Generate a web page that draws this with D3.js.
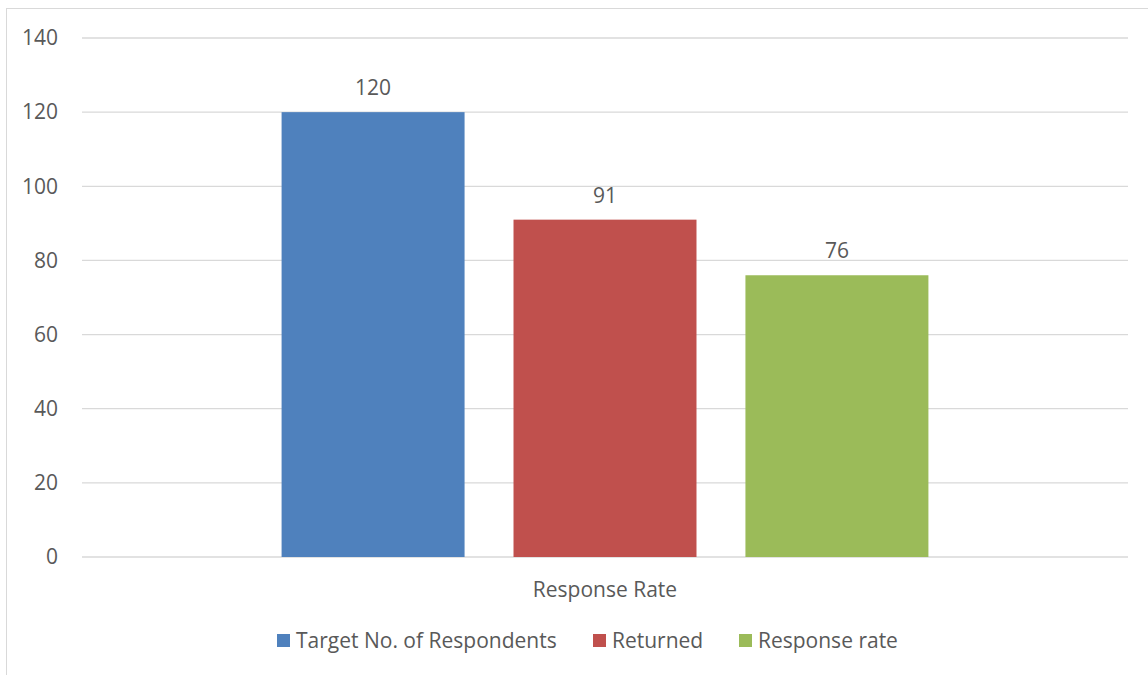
<!DOCTYPE html>
<html>
<head>
<meta charset="utf-8">
<script src="https://cdn.jsdelivr.net/npm/d3@7"></script>
<style>
  body { margin: 0; background: #fff; }
  text { font-family: "Open Sans", sans-serif; fill: #595959; }
</style>
</head>
<body>
<script>
let categories = ["Response Rate"];
let seriesNames = ["Target No. of Respondents", "Returned", "Response rate"];
let seriesValues = [120, 91, 76];
let seriesColors = ["#4F81BD", "#C0504D", "#9BBB59"];
let yTicks = [0, 20, 40, 60, 80, 100, 120, 140];

let W = 1148, H = 675;
let fontSize = "21px";
let margin = {top: 38, right: 20, bottom: 118, left: 82},
    width = 1128 - margin.left,
    height = 557 - margin.top;

let svg = d3.select("body").append("svg")
    .attr("width", W)
    .attr("height", H);

// chart border
svg.append("rect")
    .attr("x", 6.5).attr("y", 8.5)
    .attr("width", W + 20).attr("height", H + 20)
    .attr("fill", "none")
    .attr("stroke", "#d9d9d9")
    .attr("stroke-width", 1);

let g = svg.append("g")
    .attr("transform", "translate(" + margin.left + "," + margin.top + ")");

let x0 = d3.scaleBand()
    .domain(categories)
    .range([0, width])
    .padding(0.2358);

let x1 = d3.scaleBand()
    .domain(seriesNames)
    .range([0, x0.bandwidth()])
    .paddingInner(0.211)
    .paddingOuter(0);

let y = d3.scaleLinear()
    .domain([0, 140])
    .range([height, 0]);

// gridlines
g.append("g")
    .selectAll("line")
    .data(yTicks)
    .join("line")
    .attr("x1", 0).attr("x2", width)
    .attr("y1", d => y(d)).attr("y2", d => y(d))
    .attr("stroke", "#d9d9d9")
    .attr("stroke-width", 1.3);

// y axis labels
let yAxis = d3.axisLeft(y).tickValues(yTicks).tickSize(0).tickPadding(24);
g.append("g")
    .call(yAxis)
    .call(a => a.select(".domain").remove())
    .selectAll("text")
    .style("font-size", fontSize)
    .style("font-family", "Open Sans, sans-serif")
    .attr("fill", "#595959");

let data = seriesNames.map((s, i) => ({cat: categories[0], name: s, value: seriesValues[i], color: seriesColors[i]}));

let bars = g.append("g")
    .attr("transform", "translate(" + x0(categories[0]) + ",0)");

bars.selectAll("rect")
    .data(data)
    .join("rect")
    .attr("x", d => x1(d.name))
    .attr("y", d => y(d.value))
    .attr("width", x1.bandwidth())
    .attr("height", d => height - y(d.value))
    .attr("fill", d => d.color);

bars.selectAll("text.label")
    .data(data)
    .join("text")
    .attr("class", "label")
    .attr("x", d => x1(d.name) + x1.bandwidth() / 2)
    .attr("y", d => y(d.value) - 17)
    .attr("text-anchor", "middle")
    .style("font-size", fontSize)
    .text(d => d.value);

// category axis
let xAxis = d3.axisBottom(x0).tickSize(0).tickPadding(25);
g.append("g")
    .attr("transform", "translate(0," + height + ")")
    .call(xAxis)
    .call(a => a.select(".domain").remove())
    .selectAll("text")
    .style("font-size", fontSize)
    .style("font-family", "Open Sans, sans-serif")
    .attr("fill", "#595959");

// legend
let legend = svg.append("g").attr("transform", "translate(0,641)");
let legendX = [277, 593, 739];
let items = legend.selectAll("g")
    .data(data)
    .join("g")
    .attr("transform", (d, i) => "translate(" + legendX[i] + ",0)");
items.append("rect")
    .attr("x", 0).attr("y", -7)
    .attr("width", 13).attr("height", 13)
    .attr("fill", d => d.color);
items.append("text")
    .attr("x", 19)
    .attr("dy", "0.35em")
    .style("font-size", fontSize)
    .text(d => d.name);
</script>
</body>
</html>
